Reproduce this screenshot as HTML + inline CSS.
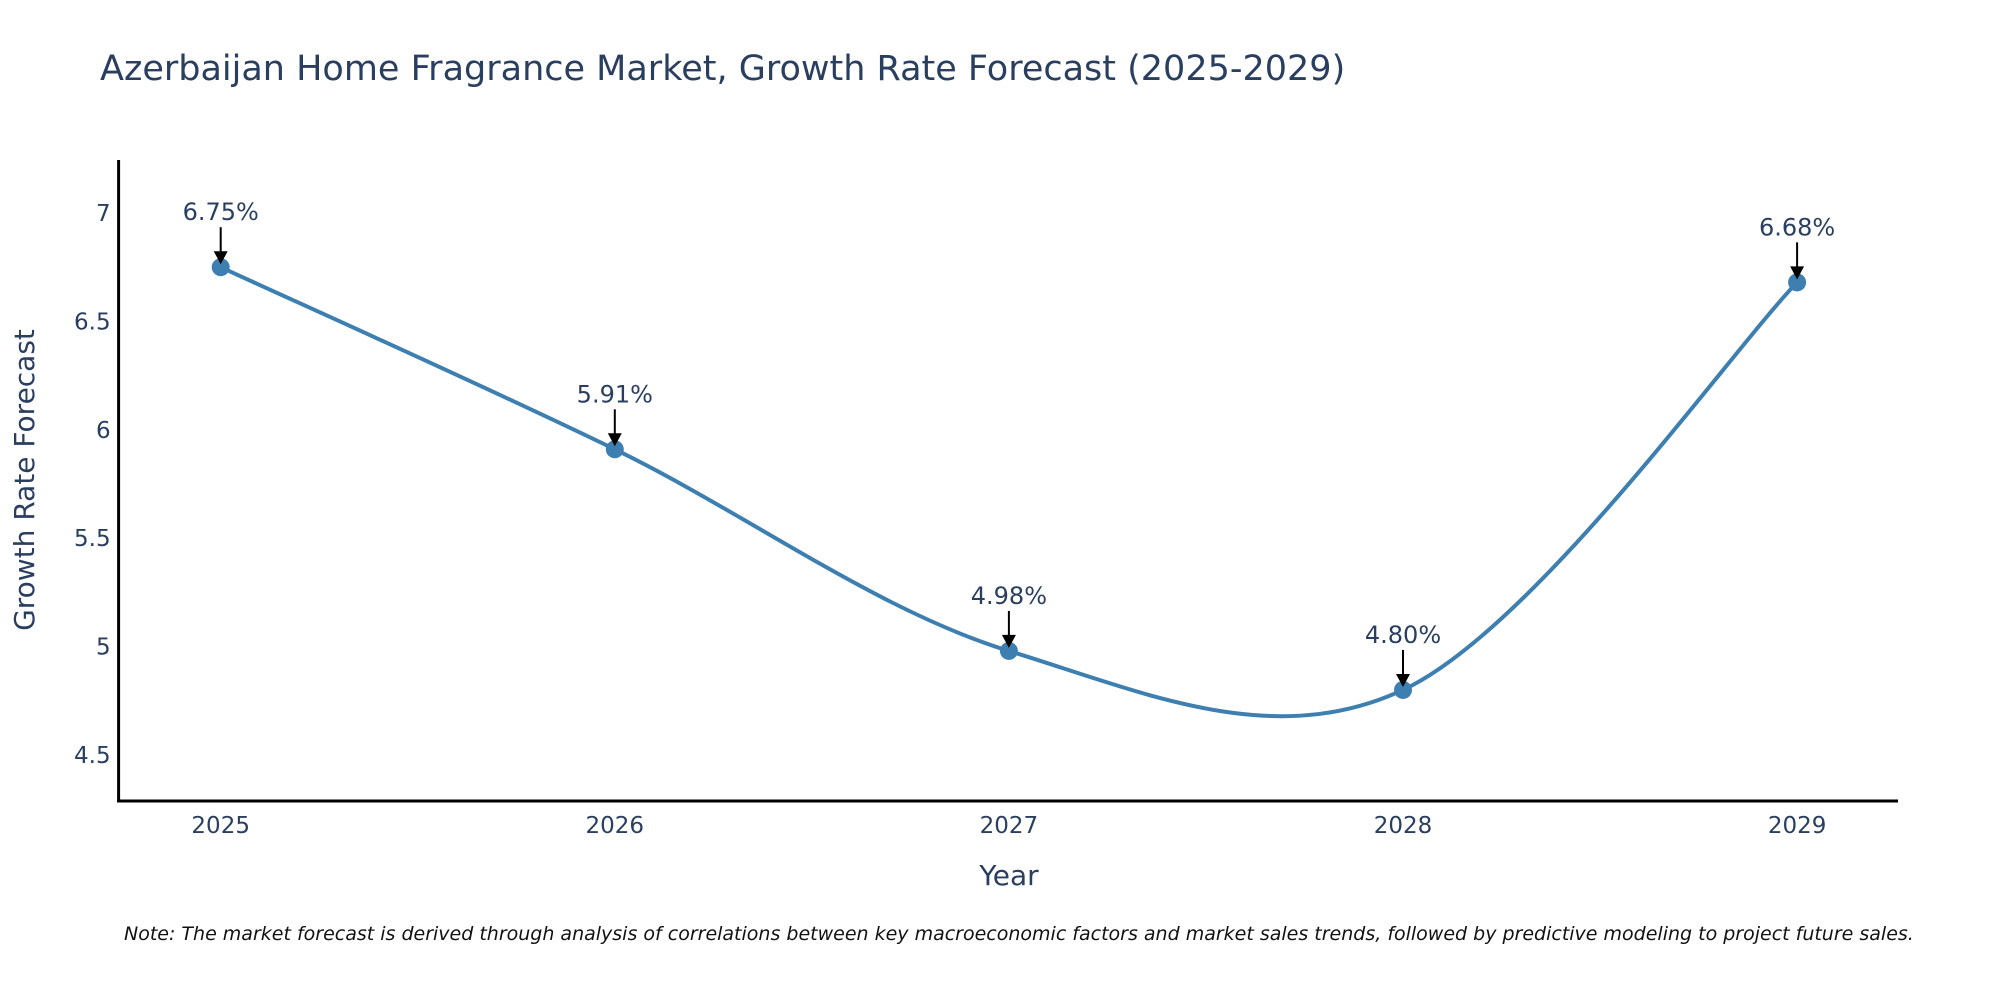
<!DOCTYPE html>
<html><head><meta charset="utf-8"><style>
body{margin:0;background:#fff;}
svg text{font-family:"DejaVu Sans","Liberation Sans",sans-serif;}
</style></head><body>
<svg id="chart" width="2000" height="1000" viewBox="0 0 2000 1000">
<text x="100" y="80" font-size="35" fill="#2a3f5f">Azerbaijan Home Fragrance Market, Growth Rate Forecast (2025-2029)</text>
<g id="axes"></g>
<g id="series"></g>
<text transform="translate(34,480) rotate(-90)" text-anchor="middle" font-size="28" fill="#2a3f5f">Growth Rate Forecast</text>
<text x="1009" y="885" text-anchor="middle" font-size="28" fill="#2a3f5f">Year</text>
<text x="124" y="940" font-size="19" font-style="italic" fill="#111">Note: The market forecast is derived through analysis of correlations between key macroeconomic factors and market sales trends, followed by predictive modeling to project future sales.</text>
</svg>
<script>
const years = ["2025","2026","2027","2028","2029"];
const values = [6.75, 5.91, 4.98, 4.80, 6.68];
const labels = ["6.75%","5.91%","4.98%","4.80%","6.68%"];
const yTicks = [4.5, 5, 5.5, 6, 6.5, 7];

const NS="http://www.w3.org/2000/svg";
const axL=118.6, axR=1898, axT=160, axB=801;
const x0=220.7, dx=394.1;
function xs(i){return x0+i*dx;}
function ys(v){return 213+(7-v)*216.8;}
function mk(tag,attrs,parent){const e=document.createElementNS(NS,tag);for(const k in attrs)e.setAttribute(k,attrs[k]);parent.appendChild(e);return e;}
const axes=document.getElementById('axes'), ser=document.getElementById('series');
let e=mk('line',{x1:axL,y1:axT,x2:axL,y2:axB+1.5,stroke:'#000','stroke-width':3},axes);


e=mk('line',{x1:axL-1.5,y1:axB,x2:axR,y2:axB,stroke:'#000','stroke-width':3},axes);


yTicks.forEach(t=>{
  const tx=mk('text',{x:axL-8,y:ys(t)+8,'text-anchor':'end','font-size':23,fill:'#2a3f5f'},axes);
  tx.textContent=String(t);
  
  
});
years.forEach((y,i)=>{
  const tx=mk('text',{x:xs(i),y:833,'text-anchor':'middle','font-size':23,fill:'#2a3f5f'},axes);
  tx.textContent=y;
  
  
});
const P=values.map((v,i)=>[xs(i),ys(v)]);
let d=`M${P[0][0]},${P[0][1]}`;
for(let i=0;i<P.length-1;i++){
  const p0=P[Math.max(i-1,0)],p1=P[i],p2=P[i+1],p3=P[Math.min(i+2,P.length-1)];
  const c1=[p1[0]+(p2[0]-p0[0])/6,p1[1]+(p2[1]-p0[1])/6];
  const c2=[p2[0]-(p3[0]-p1[0])/6,p2[1]-(p3[1]-p1[1])/6];
  d+=` C${c1[0]},${c1[1]} ${c2[0]},${c2[1]} ${p2[0]},${p2[1]}`;
}
e=mk('path',{d:d,fill:'none',stroke:'#3d7fb0','stroke-width':4},ser);


P.forEach((p,i)=>{
  const c=mk('circle',{cx:p[0],cy:p[1],r:9,fill:'#3d7fb0'},ser);
  
  
  const a=mk('line',{x1:p[0],y1:p[1]-40,x2:p[0],y2:p[1]-14,stroke:'#000','stroke-width':2},ser);
  
  
  const h=mk('polygon',{points:`${p[0]-7},${p[1]-16} ${p[0]+7},${p[1]-16} ${p[0]},${p[1]-3}`,fill:'#000'},ser);
  
  
  const t=mk('text',{x:p[0],y:p[1]-47,'text-anchor':'middle','font-size':24,fill:'#2a3f5f'},ser);
  t.textContent=labels[i];
  
  
});
</script>
</body></html>
